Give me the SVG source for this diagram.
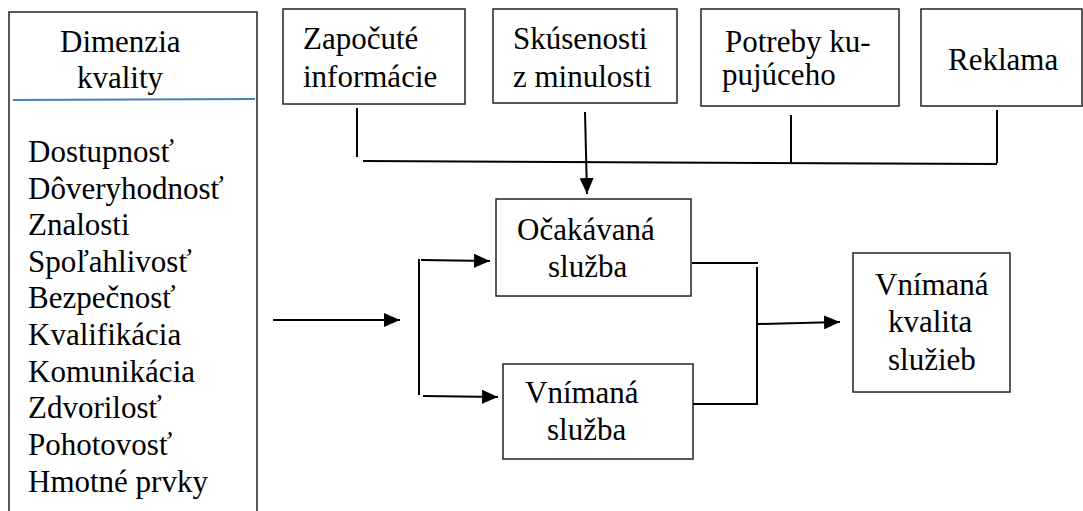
<svg xmlns="http://www.w3.org/2000/svg" width="1083" height="511" viewBox="0 0 1083 511">
<style>
.box{fill:#fff;stroke:#222;stroke-width:1.5}
.t{font-family:"Liberation Serif","Times New Roman",serif;font-size:31px;fill:#000}
.c{fill:none;stroke:#000;stroke-width:2}
</style>
<defs>
<marker id="ah" markerWidth="16" markerHeight="14" refX="16" refY="7" orient="auto" markerUnits="userSpaceOnUse">
<path d="M0,0 L16,7 L0,14 Z" fill="#000"/>
</marker>
</defs>
<rect width="1083" height="511" fill="#fff"/>
<g id="dimenzia">
<path class="box" d="M9,520 L9,12 L257,12 L257,520"/>
<line x1="13" y1="100" x2="255" y2="99" stroke="#4a7ebb" stroke-width="2"/>
<text class="t" x="60" y="52">Dimenzia</text>
<text class="t" x="77" y="88">kvality</text>
<text class="t" x="28" y="162">Dostupnosť</text>
<text class="t" x="28" y="199">Dôveryhodnosť</text>
<text class="t" x="28" y="235">Znalosti</text>
<text class="t" x="28" y="272">Spoľahlivosť</text>
<text class="t" x="28" y="308">Bezpečnosť</text>
<text class="t" x="28" y="345">Kvalifikácia</text>
<text class="t" x="28" y="382">Komunikácia</text>
<text class="t" x="28" y="418">Zdvorilosť</text>
<text class="t" x="28" y="455">Pohotovosť</text>
<text class="t" x="28" y="492">Hmotné prvky</text>
</g>
<g id="zapocute">
<rect class="box" x="283" y="9" width="182" height="95"/>
<text class="t" x="303" y="49">Započuté</text>
<text class="t" x="303" y="87">informácie</text>
</g>
<g id="skusenosti">
<rect class="box" x="493" y="9" width="184" height="94"/>
<text class="t" x="513" y="49">Skúsenosti</text>
<text class="t" x="513" y="87">z minulosti</text>
</g>
<g id="potreby">
<rect class="box" x="701" y="9" width="198" height="97"/>
<text class="t" x="725" y="52">Potreby ku-</text>
<text class="t" x="722" y="85">pujúceho</text>
</g>
<g id="reklama">
<rect class="box" x="921" y="9" width="161" height="97"/>
<text class="t" x="948" y="70">Reklama</text>
</g>
<g id="ocakavana">
<rect class="box" x="496" y="199" width="195" height="97"/>
<text class="t" x="517" y="240">Očakávaná</text>
<text class="t" x="548" y="277">služba</text>
</g>
<g id="vnimana-sluzba">
<rect class="box" x="503" y="364" width="190" height="95"/>
<text class="t" x="525" y="403">Vnímaná</text>
<text class="t" x="547" y="440">služba</text>
</g>
<g id="vnimana-kvalita">
<rect class="box" x="853" y="253" width="157" height="139"/>
<text class="t" x="875" y="295">Vnímaná</text>
<text class="t" x="888" y="332">kvalita</text>
<text class="t" x="888" y="370">služieb</text>
</g>
<g id="connectors">
<line class="c" x1="357" y1="108" x2="357" y2="157"/>
<line class="c" x1="363" y1="161" x2="997" y2="164"/>
<line class="c" x1="791" y1="115" x2="791" y2="164"/>
<line class="c" x1="997" y1="110" x2="997" y2="163"/>
<line class="c" x1="585" y1="112" x2="587" y2="194" marker-end="url(#ah)"/>
<line class="c" x1="273" y1="320" x2="400" y2="320" marker-end="url(#ah)"/>
<line class="c" x1="419" y1="259" x2="419" y2="395"/>
<line class="c" x1="421" y1="260" x2="490" y2="261" marker-end="url(#ah)"/>
<line class="c" x1="423" y1="396" x2="498" y2="397" marker-end="url(#ah)"/>
<line class="c" x1="692" y1="263" x2="758" y2="263"/>
<line class="c" x1="757" y1="267" x2="757" y2="405"/>
<line class="c" x1="693" y1="404" x2="757" y2="404"/>
<line class="c" x1="758" y1="324" x2="840" y2="322" marker-end="url(#ah)"/>
</g>
</svg>
